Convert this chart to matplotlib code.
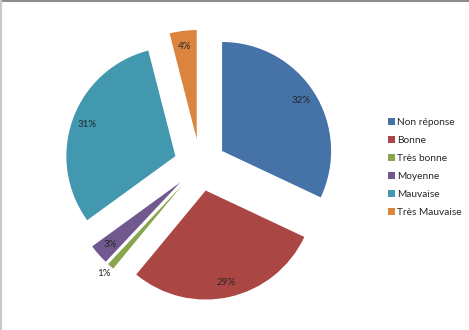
import matplotlib.pyplot as plt
import numpy as np
from matplotlib.lines import Line2D
from matplotlib.patches import Patch

plt.rcParams['font.family'] = ['Lato', 'DejaVu Sans']

# Data
labels = ['Non réponse', 'Bonne', 'Très bonne', 'Moyenne', 'Mauvaise', 'Très Mauvaise']
values = [32, 29, 1, 3, 31, 4]
colors = ['#4572A7', '#AA4643', '#89A54E', '#71588F', '#4198AF', '#DB843D']

fig = plt.figure(figsize=(4.69, 3.30), dpi=100)
ax = fig.add_axes([36.5 / 469, 1.5 / 330, 327 / 469, 327 / 330])

wedges, texts, autotexts = ax.pie(
    values, colors=colors, startangle=90, counterclock=False,
    explode=[0.24] * len(values), radius=1.0,
    autopct='%1.0f%%', pctdistance=0.86,
    textprops={'fontsize': 7, 'color': '#262626'})
ax.set_xlim(-1.5, 1.5)
ax.set_ylim(-1.5, 1.5)
ax.set_aspect('equal')
ax.axis('off')

# the 1% label sits outside its slice
w = wedges[2]
ang = np.deg2rad((w.theta1 + w.theta2) / 2)
autotexts[2].set_position((1.33 * np.cos(ang), 1.33 * np.sin(ang)))

handles = [Patch(facecolor=c, edgecolor='none') for c in colors]
fig.legend(handles, labels, loc='center left',
           bbox_to_anchor=(388 / 469, 1 - 167.5 / 330), frameon=False,
           fontsize=7.3, labelspacing=0.88, handlelength=0.7,
           handleheight=0.7, handletextpad=0.2, borderpad=0,
           borderaxespad=0, labelcolor='#262626')

# chart border (top and left)
fig.add_artist(Line2D([0, 1], [0.997, 0.997], transform=fig.transFigure,
                      color='#8c8c8c', lw=1.5))
fig.add_artist(Line2D([0.002, 0.002], [0, 1], transform=fig.transFigure,
                      color='#c8c8c8', lw=1.5))

fig.savefig('out.png', dpi=100)
